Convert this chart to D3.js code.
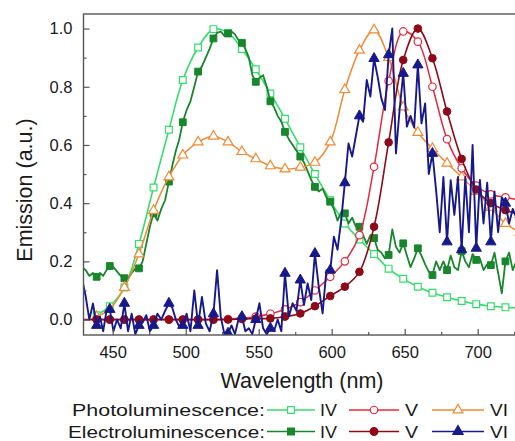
<!DOCTYPE html>
<html><head><meta charset="utf-8">
<script src="https://cdn.jsdelivr.net/npm/d3@7"></script>
<style>body{margin:0;background:#fff}svg{display:block}text{font-family:"Liberation Sans",Arial,sans-serif;fill:#1a1a1a}</style>
</head><body><svg id="c" width="515" height="441"></svg>
<script>
// sample wavelengths (nm) where markers sit
const wlGrid = [429, 439, 448, 458, 468, 478, 488.5, 498, 508.5, 519, 529, 538.5, 548, 558, 568, 578.5, 588.5, 599, 609, 619, 629, 639, 649, 659, 669, 679, 689, 699, 709, 719, 729];

// Photoluminescence (smooth, one value per grid wavelength)
const plIV = [null, 0.015, 0.046, 0.11, 0.26, 0.454, 0.652, 0.823, 0.935, 0.998, 0.985, 0.93, 0.86, 0.777, 0.69, 0.592, 0.50, 0.41, 0.33, 0.275, 0.225, 0.175, 0.14, 0.113, 0.092, 0.077, 0.064, 0.053, 0.046, 0.042, 0.04];
const plV = [null, 0.0, 0.0, 0.0, 0.0, 0.0, 0.0, 0.0, 0.0, 0.0, 0.002, 0.005, 0.01, 0.02, 0.035, 0.06, 0.10, 0.147, 0.20, 0.29, 0.525, 0.82, 0.99, 0.955, 0.80, 0.62, 0.52, 0.46, 0.43, 0.42, 0.41];
const plVI = [null, 0.01, 0.035, 0.11, 0.225, 0.375, 0.49, 0.565, 0.61, 0.63, 0.61, 0.577, 0.552, 0.528, 0.517, 0.523, 0.54, 0.61, 0.79, 0.925, 0.995, 0.90, 0.73, 0.643, 0.588, 0.537, 0.49, 0.44, 0.385, 0.33, 0.30];
// Electroluminescence V (smooth)
const elV = [0.0, 0.0, 0.0, 0.0, 0.0, 0.0, 0.0, 0.0, 0.0, 0.0, 0.0, 0.002, 0.003, 0.004, 0.01, 0.021, 0.046, 0.081, 0.113, 0.164, 0.319, 0.609, 0.892, 1.0, 0.898, 0.715, 0.552, 0.447, 0.40, 0.376, 0.36];
// Electroluminescence IV and VI (noisy, 4 samples per grid interval)
const elIV = [0.18, 0.17, 0.15, 0.16, 0.147,
  0.16, 0.15, 0.17, 0.184,  0.18, 0.165, 0.15, 0.142,  0.14, 0.16, 0.175, 0.176,
  0.20, 0.26, 0.32, 0.365,  0.34, 0.38, 0.41, 0.474,  0.53, 0.58, 0.62, 0.678,
  0.72, 0.75, 0.80, 0.852,  0.87, 0.90, 0.93, 0.966,  0.985, 0.99, 0.975, 0.983,
  0.99, 0.98, 0.96, 0.951,  0.93, 0.90, 0.84, 0.817,  0.83, 0.84, 0.80, 0.75,
  0.73, 0.70, 0.68, 0.645,  0.62, 0.60, 0.58, 0.56,  0.54, 0.51, 0.48, 0.456,
  0.44, 0.45, 0.42, 0.405,  0.38, 0.34, 0.37, 0.365,  0.33, 0.35, 0.32, 0.319,
  0.29, 0.26, 0.29, 0.28,  0.24, 0.23, 0.21, 0.222,  0.31, 0.25, 0.23, 0.262,
  0.22, 0.18, 0.21, 0.245,  0.22, 0.19, 0.165, 0.153,  0.20, 0.17, 0.20, 0.17,
  0.22, 0.18, 0.17, 0.235,  0.20, 0.18, 0.225, 0.205,  0.21, 0.17, 0.19, 0.187,
  0.23, 0.16, 0.09, 0.20,  0.23, 0.17, 0.20, 0.18];
const elVI = [0.14, 0.08, 0.0, 0.055, -0.02,
  0.01, -0.04, 0.03, 0.035,  -0.04, 0.0, -0.03, 0.056,  -0.04, 0.02, -0.05, -0.02,
  -0.01, 0.015, -0.04, -0.02,  0.02, 0.0, 0.03, 0.056,  0.04, 0.0, -0.025, -0.02,
  0.02, -0.04, 0.10, -0.02,  0.078, -0.013, -0.04, 0.02,  0.17, 0.01, -0.05, -0.047,
  -0.02, -0.05, 0.0, 0.01,  -0.04, -0.03, -0.05, 0.0,  0.056, -0.03, -0.05, -0.03,
  -0.04, 0.0, -0.04, 0.159,  0.01, 0.056, 0.03, 0.136,  0.05, 0.124, 0.067, 0.227,
  0.113, 0.021, 0.17, 0.17,  0.285, 0.24, 0.342, 0.47,  0.605, 0.56, 0.63, 0.70,
  0.68, 0.823, 0.766, 0.897,  0.834, 0.76, 0.72, 0.91,  1.0, 0.571, 0.72, 0.846,
  0.663, 0.70, 0.66, 0.875,  0.674, 0.743, 0.50, 0.571,  0.445, 0.30, 0.49, 0.267,
  0.479, 0.36, 0.49, 0.24,  0.49, 0.30, 0.60, 0.245,  0.48, 0.33, 0.47, 0.267,
  0.44, 0.30, 0.42, 0.40,  0.33, 0.38, 0.35, 0.36];

const xTicks = [450, 500, 550, 600, 650, 700];
const xMinor = [475, 525, 575, 625, 675, 725];
const yTicks = [0, 0.2, 0.4, 0.6, 0.8, 1.0];
const yMinor = [0.1, 0.3, 0.5, 0.7, 0.9];
const legendRows = ["Photoluminescence:", "Electroluminescence:"];
const legendCols = ["IV", "V", "VI"];

// dense wavelength grid: each grid interval split in 4
const wlDense = [];
for (let i = 0; i < wlGrid.length - 1; i++) for (let k = 0; k < 4; k++) wlDense.push(wlGrid[i] + (wlGrid[i+1] - wlGrid[i]) * k / 4);
wlDense.push(wlGrid[wlGrid.length - 1]);

const series = [
  {name:"PL IV", wl: wlGrid, v: plIV, color:"#35dc6c", sym:d3.symbolSquare, size:46, open:true, every:1, curve:d3.curveCatmullRom, w:1.6, row:0, col:0},
  {name:"EL IV", wl: wlDense, v: elIV, color:"#19852c", sym:d3.symbolSquare, size:46, open:false, every:4, curve:d3.curveLinear, w:1.8, row:1, col:0},
  {name:"PL VI", wl: wlGrid, v: plVI, color:"#ef8a35", sym:d3.symbolTriangle, size:42, open:true, every:1, curve:d3.curveCatmullRom, w:1.5, row:0, col:2},
  {name:"PL V", wl: wlGrid, v: plV, color:"#e42a3c", sym:d3.symbolCircle, size:44, open:true, every:1, curve:d3.curveCatmullRom, w:1.5, row:0, col:1},
  {name:"EL V", wl: wlGrid, v: elV, color:"#8e0a18", sym:d3.symbolCircle, size:46, open:false, every:1, curve:d3.curveCatmullRom, w:1.6, row:1, col:1},
  {name:"EL VI", wl: wlDense, v: elVI, color:"#17198a", sym:d3.symbolTriangle, size:46, open:false, every:4, curve:d3.curveLinear, w:1.9, row:1, col:2}
];

const svg = d3.select("#c");
const x = d3.scaleLinear().domain([430, 730]).range([83.5, 521.5]);
const y = d3.scaleLinear().domain([-0.053, 1.05]).range([335, 14]);
const axisColor = "#555";

svg.append("clipPath").attr("id","clip").append("rect")
  .attr("x", x(430)).attr("y", y(1.05)).attr("width", x(730)-x(430)).attr("height", y(-0.053)-y(1.05));

const plot = svg.append("g").attr("clip-path","url(#clip)");
series.forEach(s => {
  const pts = s.wl.map((w,i) => ({w, v:s.v[i], i})).filter(d => d.v !== null);
  const line = d3.line().x(d => x(d.w)).y(d => y(d.v)).curve(s.curve);
  plot.append("path").datum(pts).attr("d", line).attr("fill","none")
    .attr("stroke", s.color).attr("stroke-width", s.w).attr("stroke-linejoin","round");
  const marks = pts.filter(d => d.i % s.every === 0 && d.w >= 435);
  plot.selectAll(null).data(marks).enter().append("path")
    .attr("d", d3.symbol().type(s.sym).size(s.size))
    .attr("transform", d => `translate(${x(d.w)},${y(d.v)})`)
    .attr("fill", s.open ? "#fff" : s.color)
    .attr("stroke", s.color).attr("stroke-width", s.open ? 1.2 : 1);
});

// axes
function styleAxis(g){
  g.select(".domain").remove();
  g.selectAll(".tick line").attr("stroke", axisColor).attr("stroke-width", 1.2);
  g.selectAll("text").attr("font-size", 16.5).attr("fill", "#1a1a1a").style("font-family", '"Liberation Sans",Arial,sans-serif');
}
svg.append("g").attr("transform", `translate(0,${y(-0.053)})`)
  .call(d3.axisBottom(x).tickValues(xTicks).tickSizeInner(-6).tickSizeOuter(0).tickPadding(11))
  .call(styleAxis);
svg.append("g").attr("transform", `translate(0,${y(-0.053)})`)
  .call(d3.axisBottom(x).tickValues(xMinor).tickFormat("").tickSizeInner(-3).tickSizeOuter(0))
  .call(styleAxis);
svg.append("g").attr("transform", `translate(${x(430)},0)`)
  .call(d3.axisLeft(y).tickValues(yTicks).tickFormat(d3.format(".1f")).tickSizeInner(-6).tickSizeOuter(0).tickPadding(11))
  .call(styleAxis);
svg.append("g").attr("transform", `translate(${x(430)},0)`)
  .call(d3.axisLeft(y).tickValues(yMinor).tickFormat("").tickSizeInner(-3).tickSizeOuter(0))
  .call(styleAxis);

// frame
svg.append("rect").attr("x", x(430)).attr("y", y(1.05)).attr("width", x(730)-x(430)).attr("height", y(-0.053)-y(1.05))
  .attr("fill","none").attr("stroke", axisColor).attr("stroke-width", 1.4);

// axis titles
svg.append("text").attr("x", 302).attr("y", 388).attr("text-anchor","middle").attr("font-size", 21.5).text("Wavelength (nm)");
svg.append("text").attr("transform","translate(32,190) rotate(-90)").attr("text-anchor","middle").attr("font-size", 21.5).text("Emission (a.u.)");

// legend
const rowY = [410, 431.5];
const rowLen = [193, 197];
const sampleX = [[267, 315], [349, 399], [432, 484]];
const labelX = [320, 405, 490];
legendRows.forEach((r, ri) => {
  svg.append("text").attr("x", 265).attr("y", rowY[ri] + 6).attr("text-anchor","end")
    .attr("font-size", 17).attr("textLength", rowLen[ri]).attr("lengthAdjust","spacingAndGlyphs").text(r);
  legendCols.forEach((c, ci) => {
    const s = series.find(q => q.row === ri && q.col === ci);
    const [a, b] = sampleX[ci];
    svg.append("line").attr("x1", a).attr("x2", b).attr("y1", rowY[ri]).attr("y2", rowY[ri])
      .attr("stroke", s.color).attr("stroke-width", 1.6);
    svg.append("path").attr("d", d3.symbol().type(s.sym).size(s.size))
      .attr("transform", `translate(${(a+b)/2},${rowY[ri]})`)
      .attr("fill", s.open ? "#fff" : s.color).attr("stroke", s.color).attr("stroke-width", 1.2);
    svg.append("text").attr("x", labelX[ci]).attr("y", rowY[ri] + 6).attr("font-size", 17).attr("textLength", c.length === 1 ? 13 : (c === "IV" ? 17 : 18)).attr("lengthAdjust","spacingAndGlyphs").text(c);
  });
});
</script></body></html>
